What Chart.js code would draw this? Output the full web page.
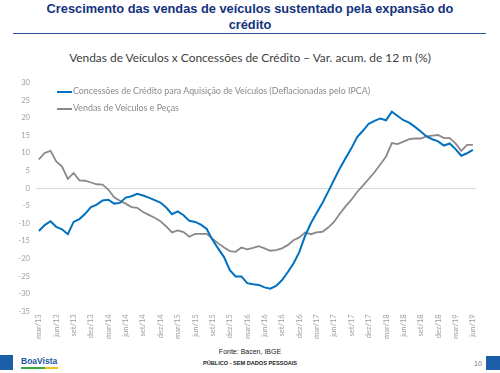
<!DOCTYPE html>
<html>
<head>
<meta charset="utf-8">
<script src="https://cdn.jsdelivr.net/npm/chart.js@4"></script>
<style>
  html, body { margin: 0; padding: 0; background: #fff; }
  body { width: 500px; height: 373px; position: relative; overflow: hidden; font-family: "Liberation Sans", Arial, sans-serif; }
  #title { position: absolute; left: 0; top: 1px; width: 500px; text-align: center; color: #15317e; font-weight: bold; font-size: 12.8px; line-height: 16px; }
  #rule { position: absolute; left: 13px; top: 33px; width: 473px; height: 0; border-top: 1px solid #2d4f9a; }
  #subtitle { position: absolute; left: 0; top: 50px; width: 500px; text-align: center; color: #404040; font-family: Lato, sans-serif; font-size: 11.9px; }
  #chartBox { position: absolute; left: 0; top: 72px; width: 485px; height: 270px; }
  .leg { position: absolute; left: 57px; font-family: Lato, sans-serif; font-size: 8.9px; color: #8a8a8a; white-space: nowrap; }
  .leg span { display: inline-block; width: 15px; height: 0; vertical-align: middle; margin-right: 1px; }
  #fonte { position: absolute; left: 0; top: 348px; width: 500px; text-align: center; font-size: 7px; color: #222; }
  #publico { position: absolute; left: 0; top: 360px; width: 500px; text-align: center; font-size: 5.6px; font-weight: bold; color: #222; }
  #logo { position: absolute; left: 21px; top: 356px; font-size: 8.5px; font-weight: bold; color: #1a55a0; }
  #logoLine { position: absolute; left: 21px; top: 367px; width: 37px; height: 2px; background: linear-gradient(to right, #3aa843 65%, #f2c21b 65%); }
  #pg { position: absolute; left: 474px; top: 360px; font-size: 7px; color: #777; }
  .box { position: absolute; background: #1d5ea8; }
</style>
</head>
<body>
<div id="title">Crescimento das vendas de veículos sustentado pela expansão do<br>crédito</div>
<div id="rule"></div>
<div id="subtitle">Vendas de Veículos x Concessões de Crédito – Var. acum. de 12 m (%)</div>
<div id="chartBox"><canvas id="chart"></canvas></div>
<div class="leg" style="top:85px"><span style="border-top:2px solid #0070c0"></span>Concessões de Crédito para Aquisição de Veículos (Deflacionadas pelo IPCA)</div>
<div class="leg" style="top:102px"><span style="border-top:2px solid #8d878d"></span>Vendas de Veículos e Peças</div>
<div id="fonte">Fonte: Bacen, IBGE</div>
<div id="publico">PÚBLICO - SEM DADOS PESSOAIS</div>
<div class="box" style="left:0;top:355px;width:13px;height:15px"></div>
<div class="box" style="left:486px;top:356px;width:14px;height:14px"></div>
<div id="logo">BoaVista</div>
<div id="logoLine"></div>
<div id="pg">10</div>
<script>
  const months = ["jan", "fev", "mar", "abr", "mai", "jun", "jul", "ago", "set", "out", "nov", "dez"];
  const labels = [];
  for (let y = 13; y <= 19; y++) {
    for (let m = 0; m < 12; m++) {
      if ((y === 13 && m < 2) || (y === 19 && m > 5)) continue;
      labels.push(months[m] + "/" + y);
    }
  }

  const credito = [
    -12.2, -10.5, -9.4, -11.0, -11.7, -13.1, -9.6, -8.8, -7.3, -5.4, -4.7, -3.5,
    -3.3, -4.4, -4.2, -2.7, -2.3, -1.6, -2.1, -2.7, -3.4, -4.1, -5.5, -7.4,
    -6.6, -7.7, -9.3, -9.6, -10.4, -11.6, -14.7, -17.2, -19.6, -23.3, -25.1, -25.1,
    -27.0, -27.3, -27.5, -28.2, -28.6, -27.8, -26.2, -23.9, -21.4, -18.2, -13.6, -10.0,
    -7.1, -4.2, -1.0, 2.3, 5.6, 8.5, 11.3, 14.5, 16.3, 18.3, 19.1, 19.8,
    19.3, 21.7, 20.5, 19.3, 18.6, 17.4, 16.1, 14.7, 13.9, 13.3, 12.1, 12.7,
    11.1, 9.2, 9.9, 10.9
  ];

  const vendas = [
    8.2, 10.0, 10.6, 7.6, 6.1, 2.6, 4.3, 2.2, 2.1, 1.6, 1.1, 1.0,
    -0.4, -2.6, -3.6, -4.4, -5.4, -5.6, -6.8, -7.6, -8.4, -9.4, -10.9, -12.6,
    -12.0, -12.5, -13.8, -13.0, -13.0, -13.0, -14.4, -15.7, -16.9, -17.9, -18.1, -16.9,
    -17.4, -17.0, -16.5, -17.1, -17.8, -17.6, -17.1, -16.2, -14.8, -14.0, -12.6, -13.1,
    -12.6, -12.4, -11.2, -9.6, -7.3, -5.2, -3.3, -1.1, 0.7, 2.6, 4.5, 6.7,
    9.0, 12.8, 12.5, 13.2, 13.9, 14.1, 14.1, 14.7, 14.9, 15.1, 14.2, 14.2,
    12.7, 10.6, 12.3, 12.3
  ];

  const tickFont = { family: "Lato, sans-serif", size: 7.6 };

  new Chart(document.getElementById("chart"), {
    type: "line",
    data: {
      labels: labels,
      datasets: [
        {
          label: "Concessões de Crédito para Aquisição de Veículos (Deflacionadas pelo IPCA)",
          data: credito,
          borderColor: "#0070c0",
          borderWidth: 2,
          pointRadius: 0,
          tension: 0,
        },
        {
          label: "Vendas de Veículos e Peças",
          data: vendas,
          borderColor: "#8d878d",
          borderWidth: 1.8,
          pointRadius: 0,
          tension: 0,
        },
      ],
    },
    options: {
      responsive: true,
      maintainAspectRatio: false,
      animation: false,
      layout: { padding: { top: 4, right: 4, left: 0, bottom: 0 } },
      plugins: { legend: { display: false }, tooltip: { enabled: false } },
      scales: {
        x: {
          offset: true,
          grid: { display: false, drawTicks: false },
          border: { display: false },
          ticks: {
            autoSkip: false,
            maxRotation: 90,
            minRotation: 90,
            padding: 3,
            color: "#a0a0a0",
            font: tickFont,
            callback: function (val, i) {
              return i % 3 === 0 ? labels[i] : "";
            },
          },
        },
        y: {
          min: -35,
          max: 30,
          ticks: { stepSize: 5, color: "#a0a0a0", font: tickFont, padding: 6 },
          border: { display: false },
          grid: {
            drawTicks: false,
            color: function (ctx) { return ctx.tick && ctx.tick.value === 0 ? "#d9d9d9" : "rgba(0,0,0,0)"; },
          },
          afterFit: function (scale) { scale.width = 36; },
        },
      },
    },
  });
</script>
</body>
</html>
